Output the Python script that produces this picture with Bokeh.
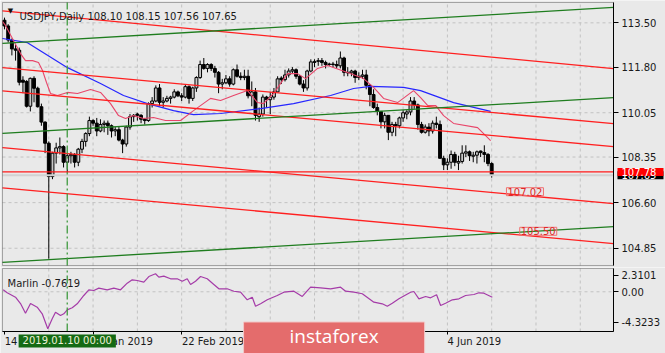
from bokeh.plotting import figure
from bokeh.layouts import column
from bokeh.models import (ColumnDataSource, Range1d, LinearAxis, FixedTicker, Label,
                          PrintfTickFormatter, BoxAnnotation)
from bokeh.embed import file_html
from bokeh.resources import INLINE

# ---------------- data ----------------
opens = [113.60, 113.38, 112.84, 112.50, 112.45, 111.30, 111.25, 110.30, 111.37, 110.99,
         110.28, 109.69, 108.88, 107.60, 108.50, 108.70, 108.75, 108.15, 108.40, 108.45,
         108.15, 108.65, 108.95, 109.25, 109.75, 109.65, 109.35, 109.60, 109.65, 109.55,
         109.35, 109.40, 109.00, 108.85, 109.50, 109.90, 110.00, 109.95, 109.80, 109.75,
         110.40, 110.50, 111.00, 110.45, 110.50, 110.60, 110.65, 110.85, 110.70, 110.65,
         111.05, 110.60, 111.00, 111.40, 111.90, 111.75, 111.90, 111.75, 111.60, 111.15,
         111.20, 111.35, 111.15, 111.70, 111.45, 111.40, 111.45, 110.70, 110.85, 109.90,
         110.00, 110.65, 110.55, 110.65, 110.85, 111.38, 111.32, 111.50, 111.65, 111.70,
         111.45, 111.15, 111.00, 111.65, 111.98, 112.02, 112.05, 111.98, 111.90, 111.92,
         111.90, 111.85, 112.15, 111.60, 111.58, 111.65, 111.40, 111.45, 111.50, 111.10,
         110.75, 110.25, 110.10, 109.70, 109.95, 109.30, 109.60, 109.55, 109.85, 110.00,
         110.08, 110.50, 110.35, 109.60, 109.30, 109.50, 109.35, 109.65, 109.60, 108.30,
         108.05, 108.15, 108.45, 108.12, 108.18, 108.50, 108.55, 108.38, 108.42, 108.58,
         108.52, 108.45, 108.10]
highs = [113.70, 113.45, 112.90, 112.65, 112.55, 111.45, 111.30, 111.40, 111.45, 111.05,
         110.40, 109.72, 108.95, 108.55, 108.90, 109.10, 108.80, 108.50, 108.55, 108.50,
         108.70, 109.05, 109.30, 109.90, 109.80, 109.85, 109.80, 109.75, 109.75, 109.60,
         109.50, 109.50, 109.05, 109.55, 110.00, 110.00, 110.05, 110.00, 109.85, 110.45,
         110.65, 111.10, 111.15, 110.65, 110.70, 110.70, 110.95, 110.90, 110.80, 111.15,
         111.10, 111.05, 111.45, 112.05, 112.15, 111.95, 111.95, 111.85, 111.65, 111.35,
         111.50, 111.45, 111.75, 111.90, 111.60, 111.70, 111.70, 111.25, 111.00, 110.25,
         110.75, 110.70, 110.85, 111.00, 111.45, 111.45, 111.70, 111.75, 111.80, 111.75,
         111.50, 111.30, 111.70, 112.10, 112.10, 112.15, 112.15, 112.05, 111.97, 112.00,
         112.05, 112.40, 112.20, 111.80, 111.70, 111.70, 111.60, 111.70, 111.70, 111.15,
         110.95, 110.40, 110.10, 110.05, 109.95, 109.70, 109.70, 109.90, 110.15, 110.15,
         110.65, 110.65, 110.40, 109.70, 109.60, 109.65, 109.75, 109.90, 109.75, 108.40,
         108.30, 108.60, 108.55, 108.40, 108.80, 108.80, 108.60, 108.55, 108.60, 108.60,
         108.80, 108.50, 108.15]
lows = [113.25, 112.75, 112.25, 112.05, 111.10, 110.80, 110.25, 110.10, 110.45, 110.25,
        109.55, 108.50, 104.45, 107.50, 108.10, 108.45, 107.95, 107.75, 108.10, 107.95,
        108.00, 108.50, 108.75, 109.15, 109.55, 109.15, 109.30, 109.30, 109.20, 109.10,
        109.15, 108.95, 108.50, 108.75, 109.40, 109.70, 109.75, 109.65, 109.60, 109.70,
        110.25, 110.45, 110.30, 110.25, 110.45, 110.40, 110.60, 110.65, 110.50, 110.60,
        110.40, 110.50, 110.85, 111.35, 111.70, 111.60, 111.65, 111.40, 110.80, 110.95,
        111.15, 111.05, 111.10, 111.40, 111.30, 111.30, 110.60, 110.30, 109.75, 109.70,
        109.90, 110.25, 110.00, 110.55, 110.85, 111.15, 111.25, 111.40, 111.55, 111.35,
        111.10, 110.85, 110.90, 111.60, 111.80, 111.85, 111.85, 111.75, 111.85, 111.80,
        111.75, 111.75, 111.45, 111.45, 111.45, 111.20, 111.30, 111.35, 110.95, 110.30,
        110.20, 109.95, 109.45, 109.45, 109.00, 109.15, 109.15, 109.45, 109.70, 109.80,
        109.95, 110.20, 109.40, 109.25, 109.25, 109.15, 109.25, 109.45, 108.30, 107.85,
        107.85, 107.90, 108.00, 107.85, 108.10, 108.35, 108.20, 108.15, 108.10, 108.35,
        108.15, 108.00, 107.56]
closes = [113.38, 112.84, 112.50, 112.45, 111.22, 111.22, 110.30, 111.37, 110.99, 110.28,
          109.69, 108.88, 107.60, 108.50, 108.70, 108.75, 108.15, 108.40, 108.45, 108.15,
          108.65, 108.95, 109.25, 109.75, 109.65, 109.35, 109.60, 109.65, 109.55, 109.35,
          109.40, 109.00, 108.85, 109.50, 109.90, 109.95, 109.95, 109.80, 109.75, 110.40,
          110.50, 111.00, 110.45, 110.50, 110.60, 110.65, 110.85, 110.70, 110.65, 111.05,
          110.60, 111.00, 111.40, 111.90, 111.75, 111.90, 111.75, 111.60, 111.15, 111.20,
          111.35, 111.15, 111.70, 111.45, 111.40, 111.45, 110.70, 110.85, 109.95, 110.00,
          110.65, 110.55, 110.65, 110.85, 111.35, 111.32, 111.50, 111.65, 111.70, 111.45,
          111.15, 111.00, 111.65, 112.00, 112.02, 112.05, 111.98, 111.90, 111.92, 111.90,
          111.85, 112.15, 111.60, 111.58, 111.65, 111.40, 111.45, 111.50, 111.10, 110.75,
          110.25, 110.10, 109.70, 109.95, 109.30, 109.60, 109.55, 109.85, 110.05, 110.08,
          110.50, 110.35, 109.60, 109.30, 109.50, 109.35, 109.65, 109.60, 108.30, 108.05,
          108.15, 108.45, 108.15, 108.18, 108.50, 108.55, 108.40, 108.42, 108.55, 108.52,
          108.45, 108.10, 107.65]

# fast (red) and slow (blue) moving averages
ma_fast_bar = [-0.54, 0.27, 2.44, 4.34, 5.69, 7.59, 9.21, 10.30, 11.38, 12.47, 14.36, 17.07,
               19.78, 23.31, 26.02, 28.73, 30.89, 32.79, 34.96, 37.67, 40.38, 43.63, 47.70,
               51.22, 55.83, 58.54, 62.06, 65.85, 68.56, 70.19, 72.90, 76.69, 79.40, 81.57,
               84.82, 87.53, 92.95, 97.29, 100.00, 102.71, 106.50, 110.84, 112.74, 114.63,
               116.80, 118.97, 121.68, 128.18, 131.71]
ma_fast_val = [113.55, 113.40, 112.82, 112.32, 112.05, 112.05, 111.98, 111.67, 111.21, 110.79,
               110.71, 110.83, 110.79, 110.94, 110.83, 110.40, 109.94, 109.83, 109.94, 109.83,
               109.87, 109.75, 109.75, 110.13, 110.60, 110.52, 110.71, 110.90, 110.44, 110.40,
               110.79, 111.55, 111.55, 111.36, 111.75, 111.86, 111.59, 111.36, 111.02, 110.60,
               110.44, 110.90, 110.63, 110.33, 110.33, 109.94, 109.64, 109.48, 108.98]
ma_slow_bar = [-0.54, 6.23, 17.07, 26.02, 32.25, 38.75, 45.80, 51.22, 58.54, 69.38, 78.32,
               88.35, 94.58, 99.19, 108.13, 112.74, 121.68, 131.71]
ma_slow_val = [112.90, 112.74, 111.78, 111.17, 110.71, 110.40, 110.13, 109.98, 110.02, 110.21,
               110.40, 110.71, 110.98, 111.06, 111.02, 110.90, 110.44, 110.10]

# Marlin oscillator
osc_bar = [-0.35, 0.73, 2.98, 4.34, 5.69, 7.05, 8.86, 10.22, 11.73, 12.93, 13.82, 15.18, 16.07,
           16.99, 18.35, 19.70, 21.49, 22.85, 24.20, 25.56, 27.83, 29.62, 31.44, 33.25, 34.61,
           35.96, 37.75, 39.11, 40.92, 41.82, 43.17, 44.99, 46.80, 48.16, 49.51, 50.41, 51.76,
           53.12, 54.93, 56.72, 58.08, 60.35, 62.14, 63.96, 65.77, 67.13, 68.02, 69.38, 71.19,
           73.90, 75.69, 78.40, 80.68, 82.93, 85.64, 88.35, 91.06, 92.41, 94.66, 96.94, 100.08,
           102.36, 103.71, 105.07, 106.86, 110.03, 110.92, 112.28, 114.09, 115.45, 117.07,
           118.16, 119.51, 121.33, 123.12, 124.93, 127.18, 128.54, 129.89, 132.17]
osc_val = [0.28, -0.14, -0.76, -1.65, -3.01, -1.65, -2.17, -3.10, -5.21, -3.80, -2.87, -3.34,
           -3.10, -2.54, -2.25, -1.69, -0.52, 0.28, 0.18, 0.51, 0.28, 0.51, 0.28, 1.21, 1.69,
           1.59, 1.35, 2.15, 2.54, 2.06, 2.20, 1.83, 1.83, 1.49, 1.83, 1.03, 1.49, 2.15, 1.83,
           1.03, 0.42, 0.42, 0.08, -0.06, -1.13, -0.76, -2.03, -1.69, -1.13, -0.52, -0.06, 0.08,
           -0.66, 0.65, 0.56, 0.42, 0.65, 0.08, -0.06, -0.28, -1.46, -1.69, -2.03, -1.61, -0.99,
           -0.06, 0.04, -0.99, -0.66, -0.85, -0.42, -1.93, -1.61, -1.13, -0.99, -0.52, -0.38,
           -0.14, -0.20, -0.76]

# trend lines (price at left and right edge of the chart)
red_left = [113.96, 111.78, 110.89, 108.71, 107.17]
red_right = [111.74, 109.63, 108.75, 106.56, 105.03]
green_left = [112.71, 109.26, 104.31]
green_right = [114.09, 110.63, 105.68]
level_price = 107.78
bid_price = 107.65
target_levels = [107.02, 105.50]
target_bars = [136.0, 139.6]
cursor_bar = 17
cursor_text = "2019.01.10 00:00"

price_ticks = [113.50, 111.80, 110.05, 108.35, 106.60, 104.85]
osc_ticks = [2.3101, 0.0, -4.3233]
osc_tick_labels = ["2.3101", "0.00", "-4.3233"]
date_tick_bars = [0, 24, 48, 72, 96, 120]
date_tick_labels = ["14 Dec 2018", "21 Jan 2019", "22 Feb 2019", "28 Mar 2019", "1 May 2019", "4 Jun 2019"]
date_label_centers = [8.7, 32.1, 56.5, 80.6, 104.0, 127.3]
grid_bars = list(range(12, 165, 12))

# panel extents (chart area left/right in bars, top/bottom in values)
X0, X1 = -0.54, 165.0
MAIN_LO, MAIN_HI = 104.188, 114.28
OSC_LO, OSC_HI = -5.593, 3.28

BG = "#e9e9e9"
GRID = "#c2c2c2"
FONT = "DejaVu Sans"
TXT = "#1a1a1a"

xr = Range1d(-1.082, 179.09)


def style_axis(ax):
    ax.major_tick_out = 5
    ax.major_tick_in = 0
    ax.minor_tick_out = 0
    ax.minor_tick_in = 0
    ax.major_label_standoff = 3
    ax.axis_line_color = "black"
    ax.major_label_text_font = FONT
    ax.major_label_text_font_size = "10px"
    ax.major_label_text_color = TXT


# ---------------- main panel ----------------
p1 = figure(width=665, height=267, x_range=xr, y_range=Range1d(104.111, 114.357),
            output_backend="svg", toolbar_location=None,
            x_axis_location=None, y_axis_location=None, min_border=0,
            min_border_left=0, min_border_right=0, min_border_top=0, min_border_bottom=0,
            background_fill_color=BG, border_fill_color=BG, outline_line_color=None)
p1.grid.visible = False

price_axis = LinearAxis(ticker=FixedTicker(ticks=price_ticks),
                        formatter=PrintfTickFormatter(format="%.2f"),
                        fixed_location=X1, bounds=(MAIN_LO, MAIN_HI))
style_axis(price_axis)
p1.add_layout(price_axis, "right")

# grid
p1.segment(x0=grid_bars, y0=[MAIN_LO] * len(grid_bars), x1=grid_bars, y1=[MAIN_HI] * len(grid_bars),
           line_color=GRID, line_dash="3 3", line_width=1)
p1.segment(x0=[X0] * len(price_ticks), y0=price_ticks, x1=[X1] * len(price_ticks), y1=price_ticks,
           line_color=GRID, line_dash="3 3", line_width=1)

# candles
bars = list(range(len(closes)))
src = ColumnDataSource(dict(
    x=bars, h=highs, l=lows,
    top=[max(o, c) for o, c in zip(opens, closes)],
    bot=[min(o, c) for o, c in zip(opens, closes)],
    fill=["#c8c8c8" if c >= o else "#000000" for o, c in zip(opens, closes)],
))
p1.segment(x0="x", y0="l", x1="x", y1="h", source=src, line_color="black", line_width=1)
p1.vbar(x="x", width=0.78, top="top", bottom="bot", source=src,
        fill_color="fill", line_color="black", line_width=1)

# moving averages
p1.line(ma_slow_bar, ma_slow_val, line_color="#2626ff", line_width=1.2)
p1.line(ma_fast_bar, ma_fast_val, line_color="#e8466a", line_width=1.1)

# bid line and level line
p1.segment(x0=[X0], y0=[bid_price], x1=[X1], y1=[bid_price], line_color="#d2d2d2", line_width=2)
p1.segment(x0=[X0], y0=[level_price], x1=[X1], y1=[level_price], line_color="#ff1a1a", line_width=1.3)

# trend lines
p1.segment(x0=[X0] * len(red_left), y0=red_left, x1=[X1] * len(red_right), y1=red_right,
           line_color="#ff2020", line_width=1.3)
p1.segment(x0=[X0] * len(green_left), y0=green_left, x1=[X1] * len(green_right), y1=green_right,
           line_color="#1f7d1f", line_width=1.3)

# cursor line
p1.segment(x0=[cursor_bar], y0=[MAIN_LO], x1=[cursor_bar], y1=[MAIN_HI],
           line_color="#3f9a3f", line_width=1.3, line_dash="8 3 2 3")

# frame
p1.add_layout(BoxAnnotation(left=X0, right=X1, bottom=MAIN_LO, top=MAIN_HI,
                            fill_color=None, line_color="black", line_width=1))

# price target labels
for lvl, b in zip(target_levels, target_bars):
    p1.add_layout(Label(x=b, y=lvl, text="%.2f" % lvl, text_font=FONT, text_font_size="10px",
                        text_color="#e02828", text_baseline="middle", text_align="left",
                        border_line_color="#f07070", border_line_width=1,
                        padding=dict(left=1, right=1, top=0, bottom=0)))

# right side price tags
p1.add_layout(Label(x=166.08, y=bid_price, text="%.2f" % bid_price, text_font=FONT,
                    text_font_size="10px", text_color="white", text_baseline="middle",
                    background_fill_color="#000000",
                    padding=dict(left=4, right=7, top=0, bottom=0)))
p1.add_layout(Label(x=166.08, y=level_price, text="%.2f" % level_price, text_font=FONT,
                    text_font_size="10px", text_color="white", text_baseline="middle",
                    background_fill_color="#ff0000",
                    padding=dict(left=4, right=7, top=0, bottom=0)))

# title
p1.add_layout(Label(x=1.63, y=113.954, text="\u25BC", text_font=FONT, text_font_size="7px",
                    text_color="#111111", text_align="center", text_baseline="middle"))
p1.add_layout(Label(x=4.07, y=113.724,
                    text="USDJPY,Daily  %.2f %.2f %.2f %.2f" % (opens[-1], highs[-1], lows[-1], closes[-1]),
                    text_font=FONT, text_font_size="10px", text_color=TXT,
                    text_baseline="alphabetic"))

# ---------------- oscillator panel ----------------
p2 = figure(width=665, height=86, x_range=xr, y_range=Range1d(-8.692, 3.421),
            output_backend="svg", toolbar_location=None,
            x_axis_location=None, y_axis_location=None, min_border=0,
            min_border_left=0, min_border_right=0, min_border_top=0, min_border_bottom=0,
            background_fill_color=BG, border_fill_color=BG, outline_line_color=None)
p2.grid.visible = False

osc_axis = LinearAxis(ticker=FixedTicker(ticks=osc_ticks), fixed_location=X1,
                      bounds=(OSC_LO, OSC_HI),
                      major_label_overrides={t: s for t, s in zip(osc_ticks, osc_tick_labels)})
style_axis(osc_axis)
p2.add_layout(osc_axis, "right")

tick_axis = LinearAxis(ticker=FixedTicker(ticks=date_tick_bars), fixed_location=OSC_LO,
                       bounds=(X0, X1), major_label_text_color=None,
                       major_tick_out=3, major_tick_in=0, minor_tick_out=0, minor_tick_in=0,
                       axis_line_color="black")
p2.add_layout(tick_axis, "below")
label_axis = LinearAxis(ticker=FixedTicker(ticks=date_label_centers), fixed_location=OSC_LO,
                        major_label_overrides={c: s for c, s in zip(date_label_centers, date_tick_labels)},
                        major_tick_out=0, major_tick_in=0, minor_tick_out=0, minor_tick_in=0,
                        major_label_standoff=5, axis_line_color=None,
                        major_label_text_font=FONT, major_label_text_font_size="10px",
                        major_label_text_color=TXT)
p2.add_layout(label_axis, "below")

# grid
p2.segment(x0=grid_bars, y0=[OSC_LO] * len(grid_bars), x1=grid_bars, y1=[OSC_HI] * len(grid_bars),
           line_color=GRID, line_dash="3 3", line_width=1)
p2.segment(x0=[X0], y0=[0.0], x1=[X1], y1=[0.0], line_color=GRID, line_dash="3 3", line_width=1)

p2.line(osc_bar, osc_val, line_color="#a53ca8", line_width=1.2)
p2.segment(x0=[cursor_bar], y0=[OSC_LO], x1=[cursor_bar], y1=[OSC_HI],
           line_color="#3f9a3f", line_width=1.3, line_dash="8 3 2 3")

p2.add_layout(BoxAnnotation(left=X0, right=X1, bottom=OSC_LO, top=OSC_HI,
                            fill_color=None, line_color="black", line_width=1))

p2.add_layout(Label(x=0.815, y=1.21, text="Marlin -0.7619",
                    text_font=FONT, text_font_size="10px", text_color=TXT,
                    text_baseline="alphabetic"))

p2.add_layout(Label(x=cursor_bar, y=-6.93, text=cursor_text, text_font=FONT,
                    text_font_size="10px", text_color="#eef2d8", text_align="center",
                    text_baseline="middle", background_fill_color="#146a14",
                    padding=dict(left=4, right=4, top=1, bottom=1)))

p2.add_layout(Label(x=89.3, y=-6.86, text="instaforex", text_font="Open Sans",
                    text_font_size="19px", text_color="white", text_align="center",
                    text_baseline="middle", background_fill_color="#e46c6c",
                    border_line_color="#f3c8c8", border_line_width=1,
                    padding=dict(left=46, right=46, top=1, bottom=10)))

layout = column(p1, p2, spacing=0)
open("out.html", "w").write(file_html(layout, INLINE))
